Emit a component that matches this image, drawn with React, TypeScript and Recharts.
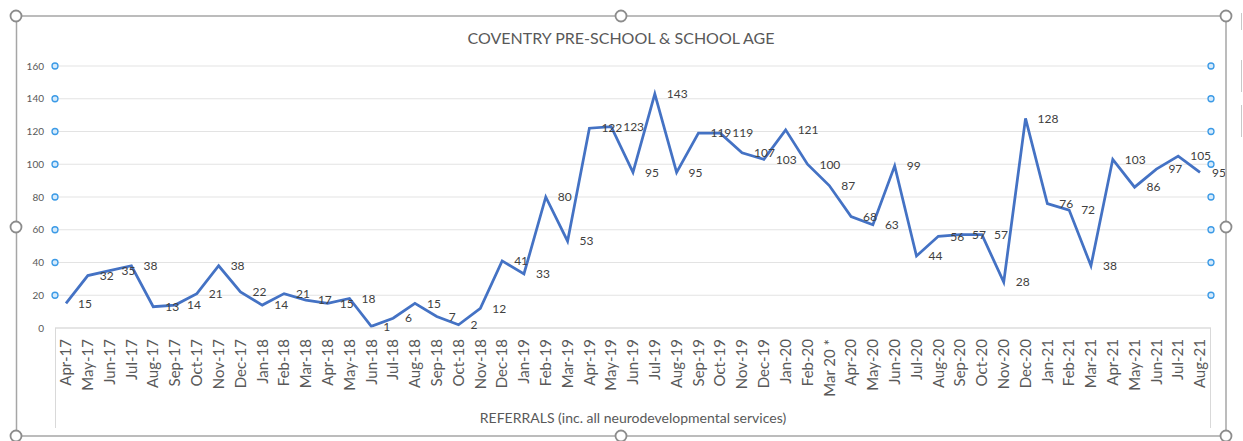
import { LineChart, Line, XAxis, YAxis, CartesianGrid, LabelList } from 'recharts';

const months = [
  'Apr-17', 'May-17', 'Jun-17', 'Jul-17', 'Aug-17', 'Sep-17', 'Oct-17', 'Nov-17', 'Dec-17',
  'Jan-18', 'Feb-18', 'Mar-18', 'Apr-18', 'May-18', 'Jun-18', 'Jul-18', 'Aug-18', 'Sep-18', 'Oct-18', 'Nov-18', 'Dec-18',
  'Jan-19', 'Feb-19', 'Mar-19', 'Apr-19', 'May-19', 'Jun-19', 'Jul-19', 'Aug-19', 'Sep-19', 'Oct-19', 'Nov-19', 'Dec-19',
  'Jan-20', 'Feb-20', 'Mar 20 *', 'Apr-20', 'May-20', 'Jun-20', 'Jul-20', 'Aug-20', 'Sep-20', 'Oct-20', 'Nov-20', 'Dec-20',
  'Jan-21', 'Feb-21', 'Mar-21', 'Apr-21', 'May-21', 'Jun-21', 'Jul-21', 'Aug-21',
];

const referrals = [
  15, 32, 35, 38, 13, 14, 21, 38, 22,
  14, 21, 17, 15, 18, 1, 6, 15, 7, 2, 12, 41,
  33, 80, 53, 122, 123, 95, 143, 95, 119, 119, 107, 103,
  121, 100, 87, 68, 63, 99, 44, 56, 57, 57, 28, 128,
  76, 72, 38, 103, 86, 97, 105, 95,
];

const yTicks = [0, 20, 40, 60, 80, 100, 120, 140, 160];

const title = 'COVENTRY PRE-SCHOOL & SCHOOL AGE';
const axisTitle = 'REFERRALS (inc. all neurodevelopmental services)';

const data = months.map((month, i) => ({ month, referrals: referrals[i] }));

const FONT = 'Lato, "Noto Sans", sans-serif';
const GREY = '#595959';

// excel-ish selection handle on each gridline
function Handle({ x, y }: { x: number; y: number }) {
  return <circle cx={x} cy={y} r={3} fill="#d6ebfc" stroke="#3b9ae6" strokeWidth={1.3} />;
}

function LeftTick(props: any) {
  const { x, y, payload } = props;
  return (
    <g>
      <text x={x - 11} y={y} dy="0.35em" textAnchor="end" fill={GREY} fontSize={10} fontFamily={FONT}>
        {payload.value}
      </text>
      {payload.value > 0 && <Handle x={x} y={y} />}
    </g>
  );
}

function RightTick(props: any) {
  const { x, y, payload } = props;
  if (payload.value <= 0) return <g />;
  return <Handle x={x} y={y} />;
}

function MonthTick(props: any) {
  const { x, y, payload } = props;
  return (
    <text
      x={x}
      y={y + 11}
      transform={`rotate(-90 ${x} ${y + 11})`}
      dy="0.35em"
      textAnchor="end"
      fill={GREY}
      fontSize={15}
      fontFamily={FONT}
    >
      {payload.value}
    </text>
  );
}

function Frame() {
  const handles = [
    [16, 16], [621, 16], [1226, 16],
    [16, 227], [1226, 227],
    [16, 436], [621, 436], [1226, 436],
  ];
  return (
    <svg width={1243} height={441} style={{ position: 'absolute', left: 0, top: 0, pointerEvents: 'none' }}>
      <rect x={16.5} y={16} width={1209.5} height={420} fill="none" stroke="#a6a6a6" strokeWidth={1.5} />
      <line x1={55.5} y1={328} x2={55.5} y2={428} stroke="#d9d9d9" />
      <line x1={1210.5} y1={328} x2={1210.5} y2={428} stroke="#d9d9d9" />
      {[[13, 30], [60, 92], [105, 137]].map(([a, b]) => (
        <line key={a} x1={1241.5} y1={a} x2={1241.5} y2={b} stroke="#c8c8c8" />
      ))}
      {handles.map(([cx, cy]) => (
        <circle key={`${cx}-${cy}`} cx={cx} cy={cy} r={5.5} fill="#fff" stroke="#8c8c8c" strokeWidth={1.8} />
      ))}
      <text x={621} y={38} dy="0.35em" textAnchor="middle" fill={GREY} fontSize={16} fontFamily={FONT}>
        {title}
      </text>
      <text x={633} y={418} dy="0.35em" textAnchor="middle" fill={GREY} fontSize={14} fontFamily={FONT}>
        {axisTitle}
      </text>
    </svg>
  );
}

export default function App() {
  return (
    <div style={{ position: 'absolute', left: 0, top: 0, width: 1243, height: 441, background: '#fff' }}>
      <LineChart width={1243} height={441} data={data} margin={{ top: 66, right: 12, bottom: 0, left: 0 }}>
        <CartesianGrid yAxisId="left" vertical={false} stroke="#e3e3e3" />
        <XAxis
          dataKey="month"
          interval={0}
          height={113}
          tickLine={false}
          tickSize={0}
          tickMargin={0}
          axisLine={{ stroke: '#d9d9d9' }}
          padding={{ left: 11, right: 11 }}
          tick={<MonthTick />}
        />
        <YAxis
          yAxisId="left"
          width={55}
          domain={[0, 160]}
          ticks={yTicks}
          axisLine={false}
          tickLine={false}
          tickSize={0}
          tickMargin={0}
          tick={<LeftTick />}
        />
        <YAxis
          yAxisId="right"
          orientation="right"
          width={20}
          domain={[0, 160]}
          ticks={yTicks}
          axisLine={false}
          tickLine={false}
          tickSize={0}
          tickMargin={0}
          tick={<RightTick />}
        />
        {/* invisible twin so the right axis (handle dots) gets rendered */}
        <Line
          yAxisId="right"
          dataKey="referrals"
          stroke="none"
          dot={false}
          activeDot={false}
          legendType="none"
          isAnimationActive={false}
        />
        <Line
          yAxisId="left"
          type="linear"
          dataKey="referrals"
          stroke="#4472c4"
          strokeWidth={2.75}
          dot={false}
          isAnimationActive={false}
        >
          <LabelList dataKey="referrals" position="right" offset={12} fill="#404040" fontSize={12} fontFamily={FONT} />
        </Line>
      </LineChart>
      <Frame />
    </div>
  );
}
